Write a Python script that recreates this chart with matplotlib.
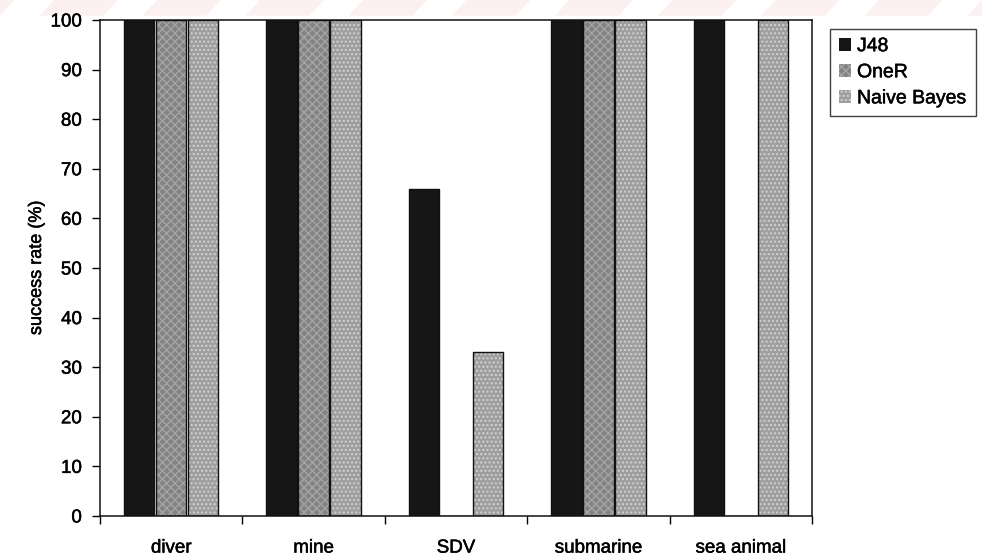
import matplotlib
matplotlib.use("Agg")
import matplotlib.pyplot as plt
import matplotlib.patheffects as pe
import numpy as np
from matplotlib.patches import Polygon

plt.rcParams['font.family'] = ['Liberation Sans', 'DejaVu Sans']

categories = ["diver", "mine", "SDV", "submarine", "sea animal"]
series_names = ["J48", "OneR", "Naive Bayes"]
j48 = [100, 100, 66, 100, 100]
oner = [100, 100, 0, 100, 0]
naive_bayes = [100, 100, 33, 100, 100]
y_ticks = [0, 10, 20, 30, 40, 50, 60, 70, 80, 90, 100]

values = [j48, oner, naive_bayes]
faces = ["#161616", "#838383", "#9e9e9e"]
hatch_cols = ["#2c2c2c", "#a4a4a4", "#d2d2d2"]
hatches = ["", "xxxx", "...."]

# slightly heavier strokes for all text
ink = [pe.withStroke(linewidth=0.35, foreground="black")]

fig = plt.figure(figsize=(9.82, 5.6), dpi=100)
ax = fig.add_axes([0.1018, 0.0786, 0.7252, 0.8857])

# faint diagonal watermark band across the top edge
for x0 in np.arange(-0.05, 1.05, 0.105):
    poly = Polygon([[x0, 1.0], [x0 + 0.065, 1.0], [x0 + 0.05, 0.972], [x0 - 0.015, 0.972]],
                   closed=True, transform=fig.transFigure, facecolor="#fdf0f0",
                   edgecolor="none", zorder=-5)
    fig.patches.append(poly)

x = np.arange(len(categories))
width = 0.225
offsets = [-width, 0, width]
handles = []
for vals, face, hc, h, off, name in zip(values, faces, hatch_cols, hatches, offsets, series_names):
    bars = ax.bar(x + off, vals, width * 0.95, color=face, hatch=h,
                  edgecolor=hc, linewidth=0, zorder=2)
    ax.bar(x + off, vals, width * 0.95, fill=False, edgecolor="#111111",
           linewidth=1.0, zorder=3)
    handles.append(bars)

ax.set_xlim(-0.5, len(categories) - 0.5)
ax.set_ylim(0, 100)
ax.set_yticks(y_ticks)
ax.set_yticklabels([str(t) for t in y_ticks], fontsize=13.5)
ax.set_xticks(np.arange(len(categories) + 1) - 0.5)
ax.set_xticklabels([])
ax.set_xticks(x, minor=True)
ax.set_xticklabels(categories, minor=True, fontsize=13.5)
ax.tick_params(axis="x", which="minor", length=0, pad=17)
ax.tick_params(axis="x", which="major", direction="out", length=6, width=1)
ax.tick_params(axis="y", direction="out", length=6, width=1, pad=7)
ax.set_ylabel("success rate (%)", fontsize=13, labelpad=4)

for lbl in ax.get_yticklabels() + ax.get_xticklabels(minor=True) + [ax.yaxis.label]:
    lbl.set_path_effects(ink)

for side in ["top", "right", "left", "bottom"]:
    ax.spines[side].set_linewidth(1.1)
    ax.spines[side].set_color("#111111")

leg = fig.legend([h[0] for h in handles], series_names, loc="upper left",
                 bbox_to_anchor=(0.845, 0.948), frameon=True, fancybox=False,
                 fontsize=14, handlelength=0.65, handleheight=0.65,
                 handletextpad=0.3, labelspacing=0.45, borderpad=0.45,
                 borderaxespad=0)
leg.get_frame().set_edgecolor("#111111")
leg.get_frame().set_linewidth(1.0)
for t in leg.get_texts():
    t.set_path_effects(ink)

fig.savefig("out.png", dpi=100)
